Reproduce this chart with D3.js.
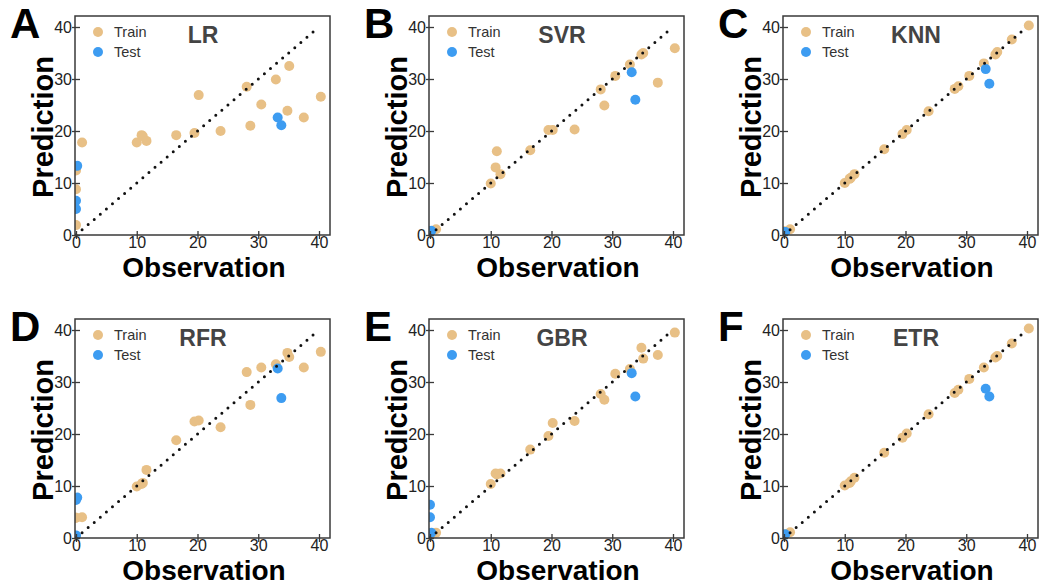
<!DOCTYPE html>
<html>
<head>
<meta charset="utf-8">
<script src="https://cdn.jsdelivr.net/npm/d3@7"></script>
<style>
  html, body { margin: 0; padding: 0; background: #fff; }
  svg { display: block; font-family: "Liberation Sans", Arial, Helvetica, sans-serif; }
</style>
</head>
<body>
<script>
// Observed values (shared by every model)
const trainObs = [0, 0, 0, 1.0, 10.0, 10.8, 11.0, 11.6, 16.5, 19.5, 20.2, 23.8, 28.1, 28.7, 30.5, 32.9, 34.8, 35.1, 37.5, 40.3];
const testObs  = [0.2, 0, 0, 33.2, 33.8];

// Predicted values per model
const lrTrain  = [12.4, 8.8, 1.9, 17.8, 17.8, 19.2, 19.0, 18.1, 19.2, 19.6, 26.9, 20.0, 28.5, 21.0, 25.1, 29.9, 23.9, 32.5, 22.6, 26.6];
const lrTest   = [13.3, 6.6, 5.0, 22.6, 21.1];
const svrTrain = [0.6, 0.5, 0.7, 1.1, 9.9, 13.0, 16.1, 11.7, 16.3, 20.2, 20.2, 20.3, 28.0, 24.9, 30.6, 32.8, 34.7, 35.0, 29.3, 35.9];
const svrTest  = [0.8, 0.6, 0.7, 31.3, 26.0];
const knnTrain = [0.6, 0.5, 0.7, 1.1, 10.0, 10.8, 11.0, 11.7, 16.5, 19.4, 20.2, 23.8, 28.1, 28.6, 30.6, 33.0, 34.7, 35.2, 37.6, 40.3];
const knnTest  = [0.6, 0.5, 0.6, 31.9, 29.1];
const rfrTrain = [3.9, 3.9, 0.3, 4.0, 9.9, 10.4, 10.6, 13.1, 18.8, 22.4, 22.6, 21.3, 31.9, 25.6, 32.8, 33.4, 35.6, 34.8, 32.8, 35.8];
const rfrTest  = [7.8, 7.3, 0.5, 32.6, 26.9];
const gbrTrain = [0.5, 0.4, 0.6, 1.0, 10.4, 12.4, 12.2, 12.4, 17.0, 19.6, 22.1, 22.5, 27.7, 26.6, 31.6, 32.5, 36.6, 34.5, 35.2, 39.5];
const gbrTest  = [1.0, 6.4, 4.0, 31.7, 27.2];
const etrTrain = [0.6, 0.5, 0.7, 1.1, 10.1, 10.6, 10.9, 11.6, 16.4, 19.3, 20.1, 23.8, 27.9, 28.5, 30.6, 32.8, 34.7, 35.0, 37.4, 40.3];
const etrTest  = [0.7, 0.6, 0.6, 28.7, 27.2];

const modelNames   = ["LR", "SVR", "KNN", "RFR", "GBR", "ETR"];
const panelLetters = ["A", "B", "C", "D", "E", "F"];
const axisTicks    = [0, 10, 20, 30, 40];
const legendLabels = ["Train", "Test"];

const trainPreds = [lrTrain, svrTrain, knnTrain, rfrTrain, gbrTrain, etrTrain];
const testPreds  = [lrTest, svrTest, knnTest, rfrTest, gbrTest, etrTest];

const COLORS = { Train: "#e8c086", Test: "#3d9cf1" };

const W = 1039, H = 585;
const svg = d3.select("body").append("svg").attr("width", W).attr("height", H);

const colX = [76, 430, 784];      // pixel x of value 0
const rowY = [235, 538];          // pixel y of value 0
const titleDx = [127, 132, 132];

modelNames.forEach((name, i) => {
  const ox = colX[i % 3], oy = rowY[Math.floor(i / 3)];
  const x = d3.scaleLinear().domain([0, 40]).range([ox, ox + 243]);
  const y = d3.scaleLinear().domain([0, 40]).range([oy, oy - 208]);

  const left = ox - 1, right = ox + 254, top = oy - 219;
  const g = svg.append("g");

  const clipId = "clip" + i;
  svg.append("clipPath").attr("id", clipId)
    .append("rect").attr("x", left).attr("y", top)
    .attr("width", right - left).attr("height", oy - top);

  const plot = g.append("g").attr("clip-path", `url(#${clipId})`);

  const train = trainObs.map((o, k) => ({ o, p: trainPreds[i][k] }));
  const test  = testObs.map((o, k) => ({ o, p: testPreds[i][k] }));

  plot.selectAll("circle.train").data(train).join("circle")
    .attr("class", "train")
    .attr("cx", d => x(d.o)).attr("cy", d => y(d.p)).attr("r", 5)
    .attr("fill", COLORS.Train);
  plot.selectAll("circle.test").data(test).join("circle")
    .attr("class", "test")
    .attr("cx", d => x(d.o)).attr("cy", d => y(d.p)).attr("r", 5)
    .attr("fill", COLORS.Test);

  // identity line y = x
  plot.append("line")
    .attr("x1", x(0)).attr("y1", y(0)).attr("x2", x(40)).attr("y2", y(40))
    .attr("stroke", "#111").attr("stroke-width", 3)
    .attr("stroke-linecap", "round").attr("stroke-dasharray", "0 8");

  // frame
  g.append("rect").attr("x", left).attr("y", top)
    .attr("width", right - left).attr("height", oy - top)
    .attr("fill", "none").attr("stroke", "#3a3a3a").attr("stroke-width", 1.5);

  // axes
  const xa = g.append("g").attr("transform", `translate(0,${oy})`)
    .call(d3.axisBottom(x).tickValues(axisTicks).tickSize(4).tickFormat(d3.format("d")));
  xa.select(".domain").remove();
  xa.selectAll(".tick line").attr("y1", -4).attr("y2", 4).attr("stroke", "#3a3a3a").attr("stroke-width", 1.3);
  xa.selectAll(".tick text").attr("y", 1.5).attr("font-size", 16).attr("fill", "#222")
    .attr("font-family", "Liberation Sans, Arial, sans-serif");

  const ya = g.append("g").attr("transform", `translate(${ox},0)`)
    .call(d3.axisLeft(y).tickValues(axisTicks).tickSize(4).tickPadding(0).tickFormat(d3.format("d")));
  ya.select(".domain").remove();
  ya.selectAll(".tick line").attr("x1", -4).attr("x2", 4).attr("stroke", "#3a3a3a").attr("stroke-width", 1.3);
  ya.selectAll(".tick text").attr("font-size", 16).attr("fill", "#222")
    .attr("font-family", "Liberation Sans, Arial, sans-serif");

  // axis titles
  g.append("text").attr("x", ox + 128).attr("y", oy + 42)
    .attr("text-anchor", "middle").attr("font-size", 28).attr("font-weight", "bold")
    .attr("fill", "#000").text("Observation");
  g.append("text")
    .attr("transform", `translate(${ox - 23},${oy - 108}) rotate(-90)`)
    .attr("text-anchor", "middle").attr("font-size", 29).attr("font-weight", "bold")
    .attr("fill", "#000").text("Prediction");

  // model title
  g.append("text").attr("x", ox + titleDx[i % 3]).attr("y", oy - 192)
    .attr("text-anchor", "middle").attr("font-size", 23).attr("font-weight", "bold")
    .attr("fill", "#444").text(name);

  // panel letter
  g.append("text").attr("x", ox - 66).attr("y", oy - 197)
    .attr("font-size", 42).attr("font-weight", "bold").attr("fill", "#000")
    .text(panelLetters[i]);

  // legend
  legendLabels.forEach((lab, k) => {
    const ly = oy - 203 + k * 20;
    g.append("circle").attr("cx", ox + 22).attr("cy", ly).attr("r", 5).attr("fill", COLORS[lab]);
    g.append("text").attr("x", ox + 38).attr("y", ly + 5)
      .attr("font-size", 14.5).attr("fill", "#333").text(lab);
  });
});
</script>
</body>
</html>
